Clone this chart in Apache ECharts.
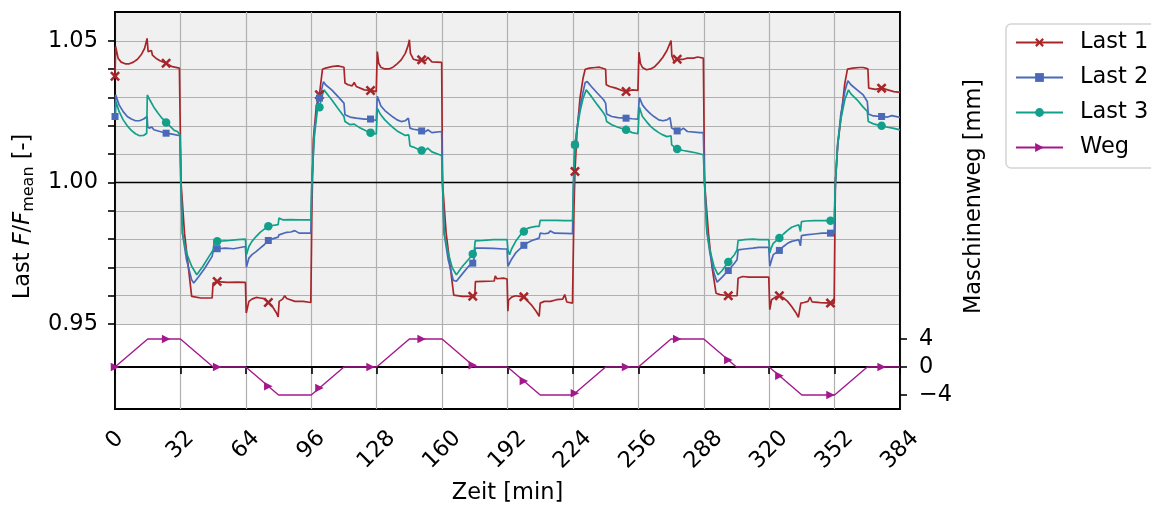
<!DOCTYPE html>
<html>
<head>
<meta charset="utf-8">
<script src="https://cdn.jsdelivr.net/npm/echarts@6/dist/echarts.min.js"></script>
<style>
  html, body { margin: 0; padding: 0; background: #fff; }
  #main { width: 1151px; height: 506px; }
</style>
</head>
<body>
<div id="main"></div>
<script>
// Zeit [min] / Last F/Fmean
var last1 = [[0,1.0375],[0.3,1.048],[1.5,1.0439],[3,1.0425],[5,1.0419],[7,1.0419],[9,1.0425],[11,1.0435],[13,1.0453],[14.5,1.0474],[15.7,1.0509],[16.2,1.0462],[17,1.0456],[17.8,1.0466],[18.3,1.045],[20,1.0439],[22,1.043],[25,1.0421],[28,1.0409],[31.5,1.0404],[32,1.0401],
  [32.3,1.0],[34,0.9821],[37.5,0.9598],[38,0.9595],[42,0.9592],[47.5,0.9592],[48,0.9645],[50,0.965],[55,0.9647],[60,0.9648],[63.8,0.9647],
  [64.2,0.9539],[65.5,0.958],[67,0.9588],[69,0.9594],[71,0.9592],[73,0.959],[75,0.9576],[77,0.9562],[79,0.9539],[79.8,0.9525],[80.3,0.958],[82,0.9588],[83,0.96],[84,0.959],[88,0.958],[92,0.958],[95.8,0.9576],
  [96.3,0.99],[97,1.015],[98.5,1.027],[100,1.031],[101,1.037],[101.5,1.04],[103,1.0404],[106,1.0409],[109,1.0412],[112,1.0407],[112.5,1.0351],[114,1.0345],[116,1.0341],[117,1.0353],[118,1.0339],[122,1.0327],[125,1.0325],[127.8,1.0321],
  [128.3,1.0462],[129,1.0421],[130,1.0407],[132,1.0401],[134,1.0401],[136,1.0407],[138,1.0419],[140,1.0433],[142,1.0456],[143.5,1.0486],[144,1.0504],[144.5,1.0456],[146,1.0435],[148,1.0431],[150,1.0433],[152,1.0431],[153,1.0442],[155,1.0426],[159.8,1.0424],
  [160.2,1.0],[162,0.982],[165.7,0.9602],[170,0.9598],[175,0.9598],[176,0.9598],[176.3,0.965],[180,0.9651],[185.5,0.9652],[186,0.967],[186.8,0.966],[190,0.9662],[191.8,0.9659],
  [192.2,0.9545],[192.5,0.9584],[194,0.9595],[196,0.96],[198,0.9598],[200,0.9596],[202,0.958],[204,0.9565],[206,0.9545],[207.5,0.9527],[208,0.9574],[210,0.958],[213,0.958],[216,0.9586],[219,0.9588],[220,0.9604],[221,0.9578],[223.8,0.9574],
  [224.5,0.99],[225,1.0039],[226,1.018],[227.5,1.03],[229,1.037],[230,1.04],[232,1.0404],[235,1.0406],[237,1.0407],[240,1.04],[240.3,1.0345],[242,1.0339],[245,1.0333],[248,1.0325],[250,1.0321],[253,1.0327],[255.8,1.0325],
  [256.3,1.046],[257,1.0421],[258,1.0406],[260,1.0398],[262,1.0401],[264,1.0409],[266,1.0424],[268,1.0442],[270,1.0466],[271.5,1.0492],[272,1.0501],[272.4,1.0447],[273.5,1.0427],[275,1.0435],[278,1.0435],[280,1.0439],[283,1.0439],[285,1.0443],[287.8,1.0439],
  [288.4,1.0],[290.3,0.982],[292,0.9704],[294,0.9609],[296,0.9604],[300,0.96],[304.3,0.96],[304.8,0.9662],[307,0.9668],[310,0.9666],[315,0.9666],[319.8,0.9666],
  [320.3,0.9551],[320.6,0.9551],[321.2,0.9586],[323,0.9595],[325,0.96],[327,0.9592],[329,0.958],[331,0.9562],[333,0.9541],[334.3,0.9524],[335,0.9521],[335.5,0.9574],[337,0.9576],[339,0.958],[340,0.9595],[341,0.9578],[345,0.9576],[350,0.9574],[351.8,0.9574],
  [352.4,1.0],[353.5,1.013],[355,1.022],[357,1.035],[358.3,1.04],[361,1.0404],[364,1.0406],[366,1.0406],[368.3,1.0401],[368.7,1.0333],[372,1.0329],[375,1.0333],[378,1.0327],[381,1.0321],[384,1.0318]];

var last2 = [[0,1.0233],[0.3,1.031],[2,1.0274],[4,1.025],[6,1.0233],[8,1.0224],[10,1.0218],[12,1.0218],[14,1.0224],[15.7,1.0233],[16,1.0195],[17,1.0192],[18,1.0196],[19,1.0186],[22,1.018],[25,1.0174],[28,1.0171],[31.8,1.0165],
  [32.2,1.0],[33,0.982],[35,0.9727],[37.5,0.9656],[38.5,0.9645],[41,0.9668],[44,0.9698],[47.5,0.9739],[48,0.9756],[48.5,0.9765],[50,0.9766],[54,0.9768],[58,0.9766],[63.8,0.9774],
  [64.3,0.9701],[65.5,0.9733],[67,0.9745],[69,0.9756],[71,0.9768],[73,0.978],[75,0.9795],[77,0.9801],[79.8,0.9807],[80.2,0.9815],[80.5,0.982],[84,0.9824],[86,0.9825],[88,0.983],[90,0.9821],[95.8,0.9821],
  [96.3,1.0],[97.5,1.018],[99,1.027],[100,1.0298],[101,1.0327],[102,1.0356],[103,1.0345],[106,1.0327],[109,1.0304],[112,1.028],[112.5,1.0239],[115,1.0231],[118,1.0227],[122,1.0224],[125,1.0224],[127.8,1.0219],
  [128.3,1.0304],[129,1.0292],[130,1.0271],[132,1.0254],[134,1.0242],[136,1.0231],[138,1.0221],[140,1.0215],[142,1.0218],[143.5,1.0227],[144,1.0233],[144.3,1.0192],[146,1.0188],[148,1.0186],[150,1.0182],[152,1.018],[153,1.0186],[155,1.0176],[159.8,1.018],
  [160.2,1.0],[161,0.982],[163,0.9727],[165.5,0.9654],[167,0.9651],[170,0.9678],[173,0.9704],[175,0.9715],[175.8,0.9736],[176.2,0.9768],[180,0.9768],[185,0.9767],[190,0.9765],[191.8,0.9765],
  [192.2,0.9704],[193,0.9698],[194,0.9729],[196,0.9751],[198,0.9765],[200,0.9778],[202,0.9788],[204,0.9795],[206,0.98],[207.5,0.9804],[208,0.9821],[210,0.9819],[212,0.9821],[213,0.9829],[215,0.9821],[220,0.982],[223.8,0.9819],
  [224.3,1.0],[225,1.0133],[226,1.019],[227.5,1.0268],[229,1.0321],[230,1.0353],[231,1.0356],[233,1.0339],[236,1.0315],[239,1.0292],[240,1.028],[240.5,1.0242],[243,1.0233],[246,1.0229],[250,1.0227],[253,1.0225],[255.8,1.0224],
  [256.5,1.0301],[258,1.0274],[260,1.0256],[262,1.0242],[264,1.0231],[266,1.0221],[268,1.0218],[270,1.0221],[271.5,1.0229],[272,1.0233],[272.3,1.0192],[275,1.0182],[277,1.0186],[278,1.0192],[280,1.018],[286,1.0176],[287.8,1.0176],
  [288.4,1.0],[289.5,0.9827],[291,0.9751],[293,0.968],[294.5,0.9648],[297,0.9666],[300,0.9689],[303,0.9715],[304.3,0.9727],[304.8,0.9762],[308,0.9765],[312,0.9768],[315,0.9771],[319.8,0.9771],
  [320.3,0.9704],[321,0.9722],[322,0.9745],[325,0.976],[327,0.9774],[329,0.9785],[331,0.9792],[333,0.9795],[334.5,0.9798],[335.3,0.9776],[335.8,0.9812],[338,0.9815],[342,0.9818],[346,0.9821],[350,0.9821],[351.8,0.9821],
  [352.4,1.0],[353.5,1.0127],[355,1.0239],[357,1.0321],[358.5,1.0359],[360,1.0345],[363,1.0327],[366,1.0309],[368,1.0286],[368.5,1.0242],[371,1.0235],[375,1.0233],[378,1.0231],[380,1.0236],[384,1.023]];

var last3 = [[0.2,1.0235],[0.4,1.0286],[2,1.0251],[4,1.0221],[6,1.02],[8,1.0184],[10,1.0172],[12,1.0165],[14,1.0166],[15.5,1.0174],[15.8,1.0309],[17,1.0292],[19,1.0266],[21,1.0245],[23,1.0227],[25,1.0212],[27,1.0198],[29,1.0184],[30.5,1.018],[31,1.0184],[31.8,1.0168],
  [32.2,1.0],[33,0.982],[35,0.9751],[37.5,0.9704],[40,0.9674],[43,0.9704],[46,0.9739],[48,0.9762],[48.5,0.9788],[50,0.9792],[56,0.9795],[60,0.9798],[63.8,0.98],
  [64.3,0.9745],[65.5,0.9774],[67,0.9792],[69,0.9809],[71,0.9824],[73,0.9835],[75,0.9845],[77,0.9848],[79.8,0.9851],[80.2,0.9874],[82,0.9868],[86,0.9869],[90,0.9868],[95.8,0.9868],
  [96.3,1.0],[97.5,1.016],[99,1.0256],[100,1.0266],[101,1.0298],[102.2,1.0327],[103,1.0321],[106,1.0292],[109,1.0262],[112,1.0233],[112.5,1.0215],[115,1.0204],[117,1.0206],[120,1.0192],[123,1.0182],[125,1.0176],[127.8,1.0171],
  [128.3,1.0262],[130,1.0239],[132,1.0221],[134,1.0207],[136,1.0194],[138,1.0182],[140,1.0174],[142,1.0166],[143.7,1.0168],[144.3,1.0129],[146,1.0125],[148,1.0118],[150,1.0113],[152,1.0115],[153,1.0121],[155,1.0108],[159.8,1.0095],
  [160.2,1.0],[161,0.982],[163,0.9751],[165,0.9698],[167,0.9674],[170,0.9704],[173,0.9729],[175,0.9747],[175.8,0.9762],[176.2,0.9794],[180,0.9795],[185,0.9798],[190,0.9798],[191.8,0.9798],
  [192.2,0.9762],[193,0.9745],[194,0.9765],[196,0.9792],[198,0.9812],[200,0.9827],[202,0.9839],[204,0.9842],[206,0.9845],[207.5,0.9845],[208,0.9866],[212,0.9866],[216,0.9866],[220,0.9865],[223.8,0.9865],
  [224.3,1.0],[225,1.0133],[226,1.0185],[227.5,1.0251],[229,1.0298],[230.5,1.0327],[233,1.0304],[236,1.0274],[239,1.0245],[240,1.0233],[240.5,1.0215],[243,1.0204],[246,1.0195],[250,1.0186],[253,1.0176],[255.8,1.0172],
  [256.5,1.0266],[258,1.0233],[260,1.0215],[262,1.0198],[264,1.0186],[266,1.0176],[268,1.0168],[270,1.0162],[272,1.0165],[272.3,1.0133],[275,1.0118],[278,1.0113],[281,1.0109],[284,1.0105],[287.8,1.0098],
  [288.4,1.0],[289.5,0.9833],[291,0.9762],[293,0.9704],[295,0.9674],[297,0.9689],[300,0.9719],[303,0.9745],[304.3,0.9762],[304.8,0.9795],[308,0.9798],[312,0.98],[315,0.9798],[319.8,0.9798],
  [320.3,0.9751],[321,0.9769],[322,0.9785],[325,0.9804],[327,0.9818],[329,0.9831],[331,0.9842],[333,0.9847],[334.5,0.985],[335.3,0.9827],[335.8,0.9862],[338,0.9864],[342,0.9865],[346,0.9865],[350,0.9865],[351.8,0.9866],
  [352.4,1.0],[353.5,1.0139],[355,1.0221],[357,1.0292],[358.8,1.0327],[360,1.0313],[363,1.0292],[366,1.0266],[368,1.0251],[368.5,1.0215],[371,1.0207],[375,1.02],[378,1.0195],[381,1.0191],[384,1.0186]];

// Maschinenweg [mm]
var weg = [[0,0],[16,4],[25,4],[32,4],[48,0],[50,0],[64,0],[75,-2.75],[80,-4],[96,-4],[100,-3],[112,0],[125,0],[128,0],[144,4],[150,4],[160,4],[175,0.25],[176,0],[192,0],[200,-2],[208,-4],[224,-4],[225,-3.75],[240,0],[250,0],[256,0],[272,4],[275,4],[288,4],[300,1],[304,0],[320,0],[325,-1.25],[336,-4],[350,-4],[352,-4],[368,0],[375,0],[384,0]];

// Zeitpunkte mit Markern
var markT = [0,25,50,75,100,125,150,175,200,225,250,275,300,325,350,375];
var leftLabels = [0.95, 1.00, 1.05];
var leftTicks = [0.95,0.96,0.97,0.98,0.99,1.00,1.01,1.02,1.03,1.04,1.05];
var rightTicks = [-4, 0, 4];
var refLine = [1.0];
var grayBand = [0.95, 1.0602];

var names = ['Last 1', 'Last 2', 'Last 3', 'Weg'];
var colors = ['#a8262a', '#4a69b8', '#12a08a', '#a3198c'];
var xPath = 'path://M0,1.8 L1.8,0 L5,3.2 L8.2,0 L10,1.8 L6.8,5 L10,8.2 L8.2,10 L5,6.8 L1.8,10 L0,8.2 L3.2,5 Z';
var triPath = 'path://M0,0 L10,5 L0,10 Z';
var symbols = [xPath, 'rect', 'circle', triPath];
var symSizes = [10, 7, 8.5, 8.5];

var FONT = 'DejaVu Sans';
var FS = 22.5;

function marks(d) {
    return d.filter(function (p) { return markT.indexOf(p[0]) >= 0; });
}

var myChart = echarts.init(document.getElementById('main'), null, { renderer: 'canvas' });

var seriesData = [last1, last2, last3, weg];
var series = [
    {
        // grauer Hintergrund ab 0.95
        type: 'custom',
        silent: true,
        z: -1,
        data: [[0, grayBand[0], 384, grayBand[1]]],
        encode: { x: [0, 2], y: [1, 3] },
        renderItem: function (params, api) {
            var p0 = api.coord([api.value(0), api.value(3)]);
            var p1 = api.coord([api.value(2), api.value(1)]);
            return {
                type: 'rect',
                shape: { x: p0[0], y: p0[1], width: p1[0] - p0[0], height: p1[1] - p0[1] },
                style: { fill: '#f0f0f0' }
            };
        }
    },
    {
        type: 'line',
        silent: true,
        z: 1,
        symbol: 'none',
        data: [[0, refLine[0]], [384, refLine[0]]],
        lineStyle: { color: '#000', width: 1.6 }
    }
];

for (var i = 0; i < 4; i++) {
    series.push({
        name: names[i],
        type: 'line',
        yAxisIndex: i === 3 ? 1 : 0,
        data: seriesData[i],
        symbol: symbols[i],
        showSymbol: false,
        silent: true,
        lineStyle: { color: colors[i], width: i === 3 ? 1.4 : 1.7 },
        itemStyle: { color: colors[i] },
        z: 3
    });
    series.push({
        name: names[i],
        type: 'scatter',
        yAxisIndex: i === 3 ? 1 : 0,
        data: marks(seriesData[i]),
        symbol: symbols[i],
        symbolSize: symSizes[i],
        silent: true,
        itemStyle: { color: colors[i], opacity: 1 },
        z: 4
    });
}

var tickText = { fontSize: FS, color: '#000', fontFamily: FONT };

var option = {
    animation: false,
    backgroundColor: '#fff',
    textStyle: { fontFamily: FONT },
    grid: {
        left: 115, right: 251, top: 12, bottom: 97,
        outerBoundsMode: 'none',
        containLabel: false,
        show: true, borderColor: '#000', borderWidth: 1.8,
        backgroundColor: 'transparent'
    },
    legend: {
        orient: 'vertical',
        left: 1006, top: 24,
        data: names,
        itemWidth: 47, itemHeight: 11, itemGap: 12,
        padding: [7, 10, 9, 9],
        borderColor: '#d4d4d4', borderWidth: 1.5, borderRadius: 5,
        backgroundColor: '#fff',
        textStyle: { fontSize: FS, color: '#000', fontFamily: FONT, padding: [0, 0, 0, 12] }
    },
    xAxis: {
        type: 'value', min: 0, max: 384, interval: 32,
        name: 'Zeit [min]', nameLocation: 'middle', nameGap: 73,
        nameTextStyle: { fontSize: FS, color: '#000', fontFamily: FONT },
        axisLine: { show: true, lineStyle: { color: '#000', width: 1.8 } },
        axisTick: { show: true, length: 7, lineStyle: { color: '#000', width: 1.6 } },
        axisLabel: {
            rotate: 45, align: 'center', verticalAlign: 'middle', margin: 31,
            fontSize: FS, color: '#000', fontFamily: FONT,
            formatter: function (v) { var s = String(v); return '{l' + s.length + '|' + s + '}'; },
            rich: {
                l1: tickText,
                l2: { fontSize: FS, color: '#000', fontFamily: FONT, padding: [7, 7, 0, 0] },
                l3: { fontSize: FS, color: '#000', fontFamily: FONT, padding: [14, 14, 0, 0] }
            }
        },
        splitLine: { show: true, lineStyle: { color: '#b0b0b0', width: 1.2 } }
    },
    yAxis: [
        {
            type: 'value', min: 0.92, max: 1.0602, position: 'left',
            name: '{n|Last }{i|F}{n|/}{i|F}{s|mean}{n| [-]}',
            nameLocation: 'middle', nameGap: 77, nameRotate: 90,
            nameTextStyle: {
                fontSize: FS, color: '#000', fontFamily: FONT, padding: [0, 12, 0, 0],
                rich: {
                    n: { fontSize: FS, color: '#000', fontFamily: FONT },
                    i: { fontSize: FS, color: '#000', fontFamily: FONT, fontStyle: 'italic' },
                    s: { fontSize: 16, color: '#000', fontFamily: FONT, padding: [12, 0, 0, 0] }
                }
            },
            axisLine: { show: true, lineStyle: { color: '#000', width: 1.8 } },
            axisTick: { show: true, length: 7, lineStyle: { color: '#000', width: 1.6 }, customValues: leftTicks },
            axisLabel: {
                customValues: leftLabels, fontSize: FS, color: '#000', fontFamily: FONT, margin: 17,
                formatter: function (v) { return v.toFixed(2); }
            },
            splitLine: { show: true, lineStyle: { color: '#b0b0b0', width: 1.2 } }
        },
        {
            type: 'value', min: -6, max: 50.76, position: 'right',
            name: 'Maschinenweg [mm]', nameLocation: 'middle', nameGap: 57, nameRotate: 90,
            nameTextStyle: { fontSize: FS, color: '#000', fontFamily: FONT, padding: [0, 0, 0, 28] },
            axisLine: { show: true, lineStyle: { color: '#000', width: 1.8 } },
            axisTick: { show: true, length: 7, lineStyle: { color: '#000', width: 1.6 }, customValues: rightTicks },
            axisLabel: {
                customValues: rightTicks, fontSize: FS, color: '#000', fontFamily: FONT, margin: 19,
                formatter: function (v) { return v < 0 ? '\u2212' + Math.abs(v) : String(v); }
            },
            splitLine: { show: false }
        }
    ],
    series: series
};

myChart.setOption(option);
window.addEventListener('resize', function () {
    myChart.resize();
});
</script>
</body>
</html>
